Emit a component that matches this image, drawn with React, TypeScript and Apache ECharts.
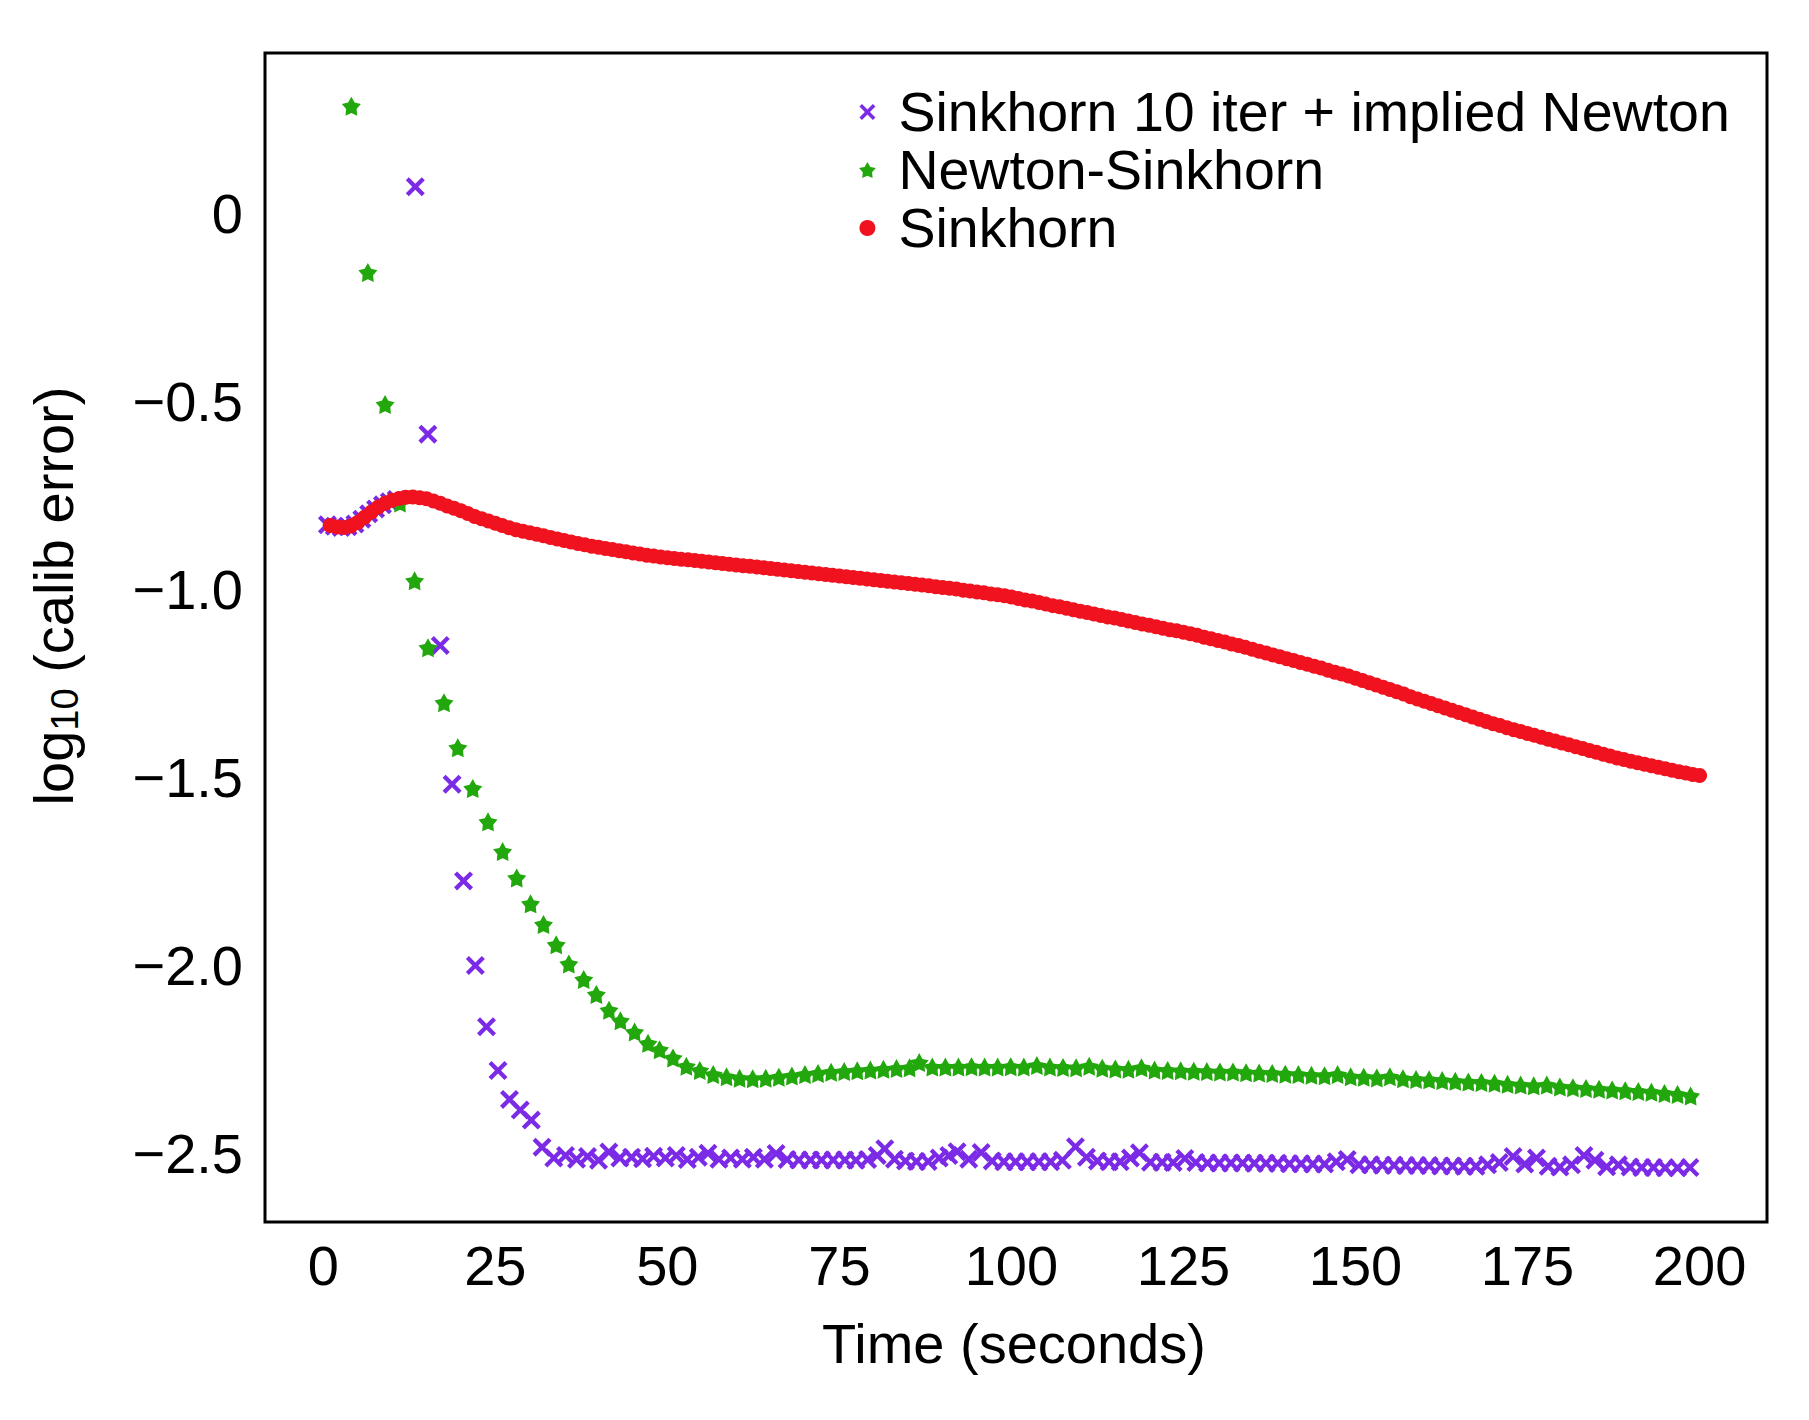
import React, { useEffect, useRef } from "react";
import * as echarts from "echarts";

const FONT = '"Liberation Sans", Arial, Helvetica, sans-serif';

const X_TICKS = [0, 25, 50, 75, 100, 125, 150, 175, 200];
const Y_TICKS = [-2.5, -2.0, -1.5, -1.0, -0.5, 0];
const X_MIN = -8.47;
const X_MAX = 209.8;
const Y_MIN = -2.682;
const Y_MAX = 0.4265;

const SERIES_NAMES = ["Sinkhorn 10 iter + implied Newton", "Newton-Sinkhorn", "Sinkhorn"];
const COLORS = ["#7b2be6", "#22a80c", "#f0121e"];

// Sinkhorn 10 iter + implied Newton (purple x)
const PURPLE_T = [
  0.6, 1.6, 2.6, 3.6, 4.6, 5.6, 6.6, 7.6, 8.6, 9.6, 10.6,
  13.37, 15.2, 17.0, 18.72, 20.38, 22.1, 23.72, 25.39, 27.06, 28.62, 30.23, 31.79,
  33.5, 35.2, 36.8, 38.4, 40.0, 41.5, 43.1, 44.8, 46.4, 48.0,
  49.7, 51.3, 52.9, 54.5, 55.9, 57.5, 59.2, 60.9, 62.5, 64.1,
  65.8, 67.4, 69.1, 70.8, 72.4, 74.1, 75.8, 77.4, 79.1, 80.5,
  81.6, 83.0, 84.6, 86.2, 87.9, 89.5, 90.9, 92.1, 93.8, 95.6,
  97.2, 98.9, 100.6, 102.3, 104.0, 105.7, 107.4, 109.3, 110.9, 112.5,
  114.2, 115.8, 117.3, 118.6, 120.2, 121.9, 123.5, 125.2, 126.8, 128.5,
  130.2, 131.9, 133.6, 135.3, 137.0, 138.7, 140.4, 142.1, 143.8, 145.5,
  147.2, 148.8, 150.5, 152.2, 153.9, 155.6, 157.3, 159.0, 160.7, 162.4,
  164.1, 165.8, 167.5, 169.2, 170.9, 172.9, 174.6, 176.3, 178.0, 179.7,
  181.4, 183.2, 184.8, 186.5, 188.2, 189.9, 191.6, 193.3, 195.0, 196.8,
  198.6,
];
const PURPLE_V = [
  -0.828, -0.832, -0.835, -0.833, -0.826, -0.813, -0.799, -0.786, -0.775, -0.767, -0.761,
  0.071, -0.587, -1.149, -1.518, -1.775, -2.0, -2.163, -2.279, -2.356, -2.384, -2.411, -2.483,
  -2.512, -2.505, -2.515, -2.508, -2.518, -2.496, -2.512, -2.51, -2.514, -2.507,
  -2.512, -2.505, -2.516, -2.51, -2.499, -2.515, -2.512, -2.515, -2.51, -2.515,
  -2.5, -2.516, -2.517, -2.517, -2.517, -2.517, -2.517, -2.518, -2.516, -2.505,
  -2.487, -2.515, -2.52, -2.521, -2.521, -2.512, -2.505, -2.495, -2.515, -2.497,
  -2.52, -2.522, -2.522, -2.522, -2.522, -2.522, -2.518, -2.482, -2.51, -2.52,
  -2.522, -2.522, -2.512, -2.498, -2.523, -2.523, -2.524, -2.513, -2.524, -2.525,
  -2.525, -2.525, -2.525, -2.526, -2.526, -2.526, -2.527, -2.527, -2.528, -2.528,
  -2.522, -2.516, -2.53, -2.53, -2.531, -2.531, -2.532, -2.532, -2.532, -2.533,
  -2.533, -2.534, -2.534, -2.53, -2.524, -2.508, -2.528, -2.512, -2.534, -2.536,
  -2.53, -2.505, -2.518, -2.535, -2.53, -2.536, -2.537, -2.537, -2.538, -2.538,
  -2.537,
];

// Newton-Sinkhorn (green stars)
const GREEN_T = [
  4.08, 6.48, 8.98, 11.15, 13.27, 15.22, 17.54, 19.55, 21.72, 23.94,
  26.06, 28.11, 30.12, 32.0, 33.85, 35.68, 37.85, 39.68, 41.52, 43.18,
  45.24, 47.19, 48.87, 50.82, 52.76, 54.71, 56.66, 58.6,
  60.5, 62.4, 64.3, 66.2, 68.1, 70.0, 71.9, 73.8, 75.7, 77.6,
  79.5, 81.4, 83.3, 85.2, 86.6, 88.5, 90.4, 92.3, 94.2, 96.1,
  98.0, 99.9, 101.8, 103.7, 105.6, 107.5, 109.4, 111.3, 113.2, 115.1,
  117.0, 118.9, 120.8, 122.7, 124.6, 126.5, 128.4, 130.3, 132.2, 134.1,
  136.0, 137.9, 139.8, 141.7, 143.6, 145.5, 147.4, 149.3, 151.2, 153.1,
  155.0, 156.9, 158.8, 160.7, 162.6, 164.5, 166.4, 168.3, 170.2, 172.1,
  174.0, 175.9, 177.8, 179.7, 181.6, 183.5, 185.4, 187.3, 189.2, 191.1,
  193.0, 194.9, 196.8, 198.7,
];
const GREEN_V = [
  0.285, -0.157, -0.508, -0.77, -0.977, -1.155, -1.301, -1.421, -1.529, -1.618,
  -1.697, -1.767, -1.836, -1.891, -1.945, -1.996, -2.037, -2.077, -2.119, -2.147,
  -2.177, -2.207, -2.224, -2.246, -2.268, -2.279, -2.29, -2.296,
  -2.3, -2.301, -2.3, -2.297, -2.294, -2.29, -2.287, -2.284, -2.282, -2.28,
  -2.278, -2.276, -2.274, -2.272, -2.258, -2.27, -2.27, -2.27, -2.269, -2.27,
  -2.27, -2.269, -2.27, -2.266, -2.27, -2.271, -2.272, -2.268, -2.273, -2.275,
  -2.276, -2.272, -2.278, -2.279, -2.28, -2.281, -2.282, -2.283, -2.283, -2.285,
  -2.286, -2.287, -2.289, -2.29, -2.292, -2.293, -2.29, -2.296, -2.297, -2.299,
  -2.296, -2.301, -2.303, -2.304, -2.306, -2.308, -2.31, -2.311, -2.313, -2.316,
  -2.318, -2.32, -2.318, -2.323, -2.325, -2.327, -2.329, -2.331, -2.333, -2.335,
  -2.337, -2.34, -2.343, -2.347,
];

// Sinkhorn (red dots)
const RED_T = [
  1, 2, 3, 4, 5, 6, 7, 8, 9, 10, 11, 12, 13, 14, 15, 16, 17, 18, 19, 20,
  21, 22, 23, 24, 25, 26, 27, 28, 29, 30, 31, 32, 33, 34, 35, 36, 37, 38, 39, 40,
  41, 42, 43, 44, 45, 46, 47, 48, 49, 50, 51, 52, 53, 54, 55, 56, 57, 58, 59, 60,
  61, 62, 63, 64, 65, 66, 67, 68, 69, 70, 71, 72, 73, 74, 75, 76, 77, 78, 79, 80,
  81, 82, 83, 84, 85, 86, 87, 88, 89, 90, 91, 92, 93, 94, 95, 96, 97, 98, 99, 100,
  101, 102, 103, 104, 105, 106, 107, 108, 109, 110, 111, 112, 113, 114, 115, 116, 117, 118, 119, 120,
  121, 122, 123, 124, 125, 126, 127, 128, 129, 130, 131, 132, 133, 134, 135, 136, 137, 138, 139, 140,
  141, 142, 143, 144, 145, 146, 147, 148, 149, 150, 151, 152, 153, 154, 155, 156, 157, 158, 159, 160,
  161, 162, 163, 164, 165, 166, 167, 168, 169, 170, 171, 172, 173, 174, 175, 176, 177, 178, 179, 180,
  181, 182, 183, 184, 185, 186, 187, 188, 189, 190, 191, 192, 193, 194, 195, 196, 197, 198, 199, 200,
];
const RED_V = [
  -0.83, -0.834, -0.835, -0.831, -0.822, -0.808, -0.794, -0.781, -0.771, -0.763,
  -0.758, -0.755, -0.754, -0.756, -0.759, -0.765, -0.771, -0.778, -0.784, -0.791,
  -0.798, -0.806, -0.812, -0.818, -0.824, -0.83, -0.836, -0.841, -0.845, -0.849,
  -0.853, -0.857, -0.862, -0.866, -0.87, -0.874, -0.878, -0.881, -0.885, -0.888,
  -0.891, -0.894, -0.897, -0.9, -0.903, -0.906, -0.909, -0.911, -0.914, -0.916,
  -0.918, -0.92, -0.921, -0.923, -0.925, -0.927, -0.929, -0.931, -0.933, -0.935,
  -0.937, -0.938, -0.94, -0.942, -0.944, -0.946, -0.948, -0.95, -0.952, -0.954,
  -0.956, -0.958, -0.96, -0.962, -0.964, -0.966, -0.968, -0.97, -0.972, -0.974,
  -0.976, -0.978, -0.98, -0.982, -0.984, -0.986, -0.988, -0.99, -0.993, -0.995,
  -0.997, -0.999, -1.002, -1.004, -1.007, -1.009, -1.012, -1.014, -1.017, -1.02,
  -1.024, -1.028, -1.031, -1.035, -1.039, -1.043, -1.046, -1.05, -1.054, -1.058,
  -1.061, -1.065, -1.069, -1.073, -1.076, -1.08, -1.084, -1.088, -1.092, -1.095,
  -1.099, -1.103, -1.107, -1.11, -1.114, -1.118, -1.122, -1.127, -1.131, -1.136,
  -1.14, -1.145, -1.149, -1.154, -1.159, -1.164, -1.169, -1.174, -1.179, -1.184,
  -1.189, -1.194, -1.199, -1.204, -1.209, -1.215, -1.22, -1.225, -1.23, -1.236,
  -1.242, -1.248, -1.254, -1.26, -1.266, -1.272, -1.278, -1.285, -1.291, -1.297,
  -1.303, -1.309, -1.315, -1.321, -1.327, -1.333, -1.339, -1.345, -1.351, -1.357,
  -1.362, -1.368, -1.373, -1.378, -1.383, -1.388, -1.393, -1.398, -1.403, -1.408,
  -1.413, -1.418, -1.423, -1.428, -1.433, -1.438, -1.443, -1.448, -1.452, -1.457,
  -1.461, -1.465, -1.469, -1.473, -1.477, -1.481, -1.485, -1.488, -1.492, -1.495,
];

const X_MARK =
  "path://M0,1.6L1.6,0L5,3.4L8.4,0L10,1.6L6.6,5L10,8.4L8.4,10L5,6.6L1.6,10L0,8.4L3.4,5Z";
const STAR_MARK =
  "path://M5,0L6.616,2.775L9.755,3.455L7.616,5.85L7.939,9.045L5,7.75L2.061,9.045L2.384,5.85L0.245,3.455L3.384,2.775Z";

const zip = (t: number[], v: number[]) => t.map((x, i) => [x, v[i]]);

const fmtY = (v: number) => (Math.abs(v) < 1e-9 ? "0" : "\u2212" + Math.abs(v).toFixed(1));

export default function App() {
  const ref = useRef<HTMLDivElement>(null);

  useEffect(() => {
    if (!ref.current) return;
    const chart = echarts.init(ref.current, undefined, { renderer: "svg" });
    const option: any = {
      animation: false,
      backgroundColor: "#ffffff",
      textStyle: { fontFamily: FONT },
      grid: {
        left: 265,
        top: 53,
        width: 1502,
        height: 1169,
        show: true,
        borderColor: "#000000",
        borderWidth: 3,
        backgroundColor: "transparent",
      },
      xAxis: {
        type: "value",
        min: X_MIN,
        max: X_MAX,
        axisLine: { show: false },
        axisTick: { show: false },
        splitLine: { show: false },
        axisLabel: {
          customValues: X_TICKS,
          fontSize: 56,
          fontFamily: FONT,
          color: "#000000",
          margin: 15,
        },
      },
      yAxis: {
        type: "value",
        min: Y_MIN,
        max: Y_MAX,
        axisLine: { show: false },
        axisTick: { show: false },
        splitLine: { show: false },
        axisLabel: {
          customValues: Y_TICKS,
          fontSize: 56,
          fontFamily: FONT,
          color: "#000000",
          margin: 22,
          formatter: fmtY,
        },
      },
      legend: {
        show: true,
        orient: "vertical",
        left: 859,
        top: 83,
        padding: 0,
        itemGap: 0,
        itemWidth: 52,
        itemHeight: 16,
        selectedMode: false,
        data: SERIES_NAMES,
        textStyle: { fontSize: 55.5, fontFamily: FONT, color: "#000000", lineHeight: 58 },
      },
      graphic: [
        {
          type: "text",
          x: 1014,
          y: 1343,
          style: {
            text: "Time (seconds)",
            fontSize: 56,
            fontFamily: FONT,
            fill: "#000000",
            align: "center",
            verticalAlign: "middle",
          },
        },
        {
          type: "text",
          x: 53,
          y: 596,
          rotation: Math.PI / 2,
          style: {
            text: "{a|log}{b|10}{a| (calib error)}",
            fill: "#000000",
            align: "center",
            verticalAlign: "middle",
            rich: {
              a: { fontSize: 56, fontFamily: FONT, fill: "#000000", lineHeight: 62 },
              b: {
                fontSize: 38,
                fontFamily: FONT,
                fill: "#000000",
                lineHeight: 42,
                verticalAlign: "bottom",
              },
            },
          },
        },
      ],
      series: [
        {
          type: "scatter",
          name: SERIES_NAMES[0],
          data: zip(PURPLE_T, PURPLE_V),
          symbol: X_MARK,
          symbolSize: 19,
          itemStyle: { color: COLORS[0], opacity: 1 },
          silent: true,
        },
        {
          type: "scatter",
          name: SERIES_NAMES[1],
          data: zip(GREEN_T, GREEN_V),
          symbol: STAR_MARK,
          symbolSize: 19,
          itemStyle: { color: COLORS[1], opacity: 1 },
          silent: true,
        },
        {
          type: "scatter",
          name: SERIES_NAMES[2],
          data: zip(RED_T, RED_V),
          symbol: "circle",
          symbolSize: 15,
          itemStyle: { color: COLORS[2], opacity: 1 },
          silent: true,
        },
      ],
    };
    chart.setOption(option);
    return () => {
      chart.dispose();
    };
  }, []);

  return (
    <div
      ref={ref}
      style={{ position: "absolute", left: 0, top: 0, width: 1809, height: 1420, background: "#fff" }}
    />
  );
}
